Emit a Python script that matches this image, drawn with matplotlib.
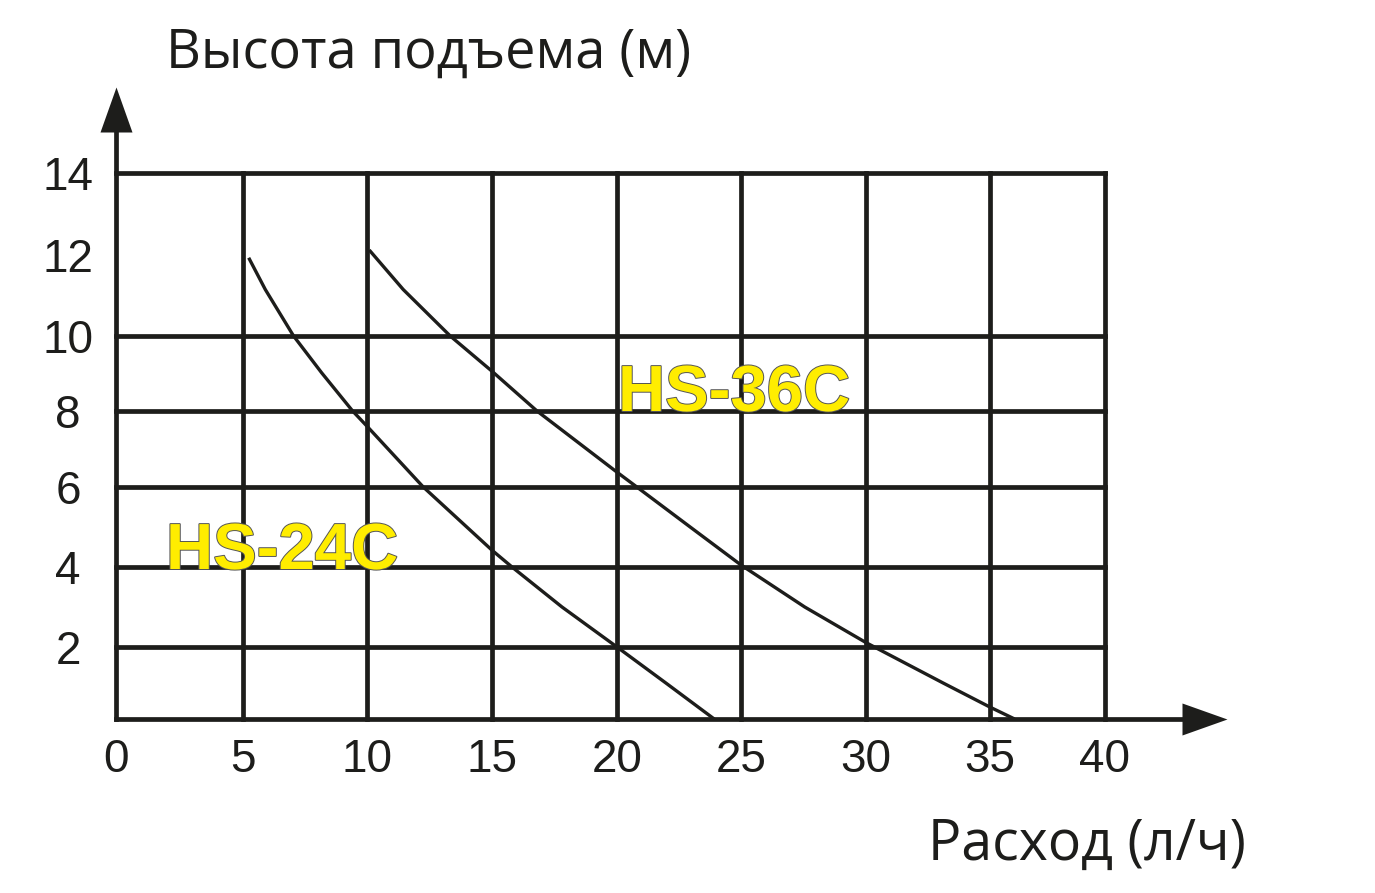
import numpy as np
import matplotlib.pyplot as plt
from matplotlib.path import Path
from matplotlib import patheffects

# pump curves: flow (л/ч) vs head (м)
hs24_flow = [5.23, 5.9, 7.04, 8.17, 9.42, 10.0, 12.25, 15.0, 15.8, 17.8, 20.0, 21.97, 23.92]
hs24_head = [11.92, 11.14, 10.0, 9.02, 8.0, 7.6, 6.0, 4.42, 4.0, 3.0, 2.0, 1.0, 0.0]

hs36_flow = [10.09, 11.45, 13.33, 15.0, 16.8, 19.92, 20.8, 22.95, 25.0, 27.55, 30.0, 33.11, 35.0, 36.07]
hs36_head = [12.11, 11.14, 10.0, 9.06, 8.0, 6.43, 6.0, 5.0, 4.05, 3.0, 2.11, 1.0, 0.33, 0.0]

x_ticks = [0, 5, 10, 15, 20, 25, 30, 35, 40]
y_ticks = [2, 4, 6, 8, 10, 12, 14]
x_grid = [5, 10, 15, 20, 25, 30, 35, 40]
y_grid = [2, 4, 6, 8, 10, 14]

# the original grid is drawn slightly uneven, so use piecewise linear scales
x_nodes = [-40, 0, 5, 10, 15, 20, 25, 30, 35, 40, 80]
x_span = [-1000, 0, 127, 251, 376, 501, 625, 750, 874, 989, 1909]
y_nodes = [-14, 0, 2, 4, 6, 8, 10, 14, 28]
y_span = [-546, 0, 72, 152, 232, 308, 383, 546, 1092]


def fwd(nodes, span):
    return lambda v: np.interp(v, nodes, span)


def inv(nodes, span):
    return lambda v: np.interp(v, span, nodes)


INK = "#1d1d1b"
YELLOW = "#ffed00"

fig = plt.figure(figsize=(13.75, 8.93), dpi=100)
ax = fig.add_axes([116 / 1375, 174 / 893, 989 / 1375, 546 / 893])
ax.set_xscale("function", functions=(fwd(x_nodes, x_span), inv(x_nodes, x_span)))
ax.set_yscale("function", functions=(fwd(y_nodes, y_span), inv(y_nodes, y_span)))
ax.set_xlim(0, 40)
ax.set_ylim(0, 14)

for s in ax.spines.values():
    s.set_visible(False)

ax.vlines(x_grid, 0, 14, color=INK, lw=3.4, capstyle="projecting", clip_on=False)
ax.hlines(y_grid, 0, 40, color=INK, lw=3.4, capstyle="projecting", clip_on=False)

# axes with arrow heads
ytop = (719 - 87) / 546
xend = (1227 - 116) / 989
ax.plot([0, 0], [0, ytop - 0.06], transform=ax.transAxes, color=INK, lw=3.4,
        clip_on=False, solid_capstyle="projecting")
ax.plot([0, xend - 0.03], [0, 0], transform=ax.transAxes, color=INK, lw=3.4,
        clip_on=False, solid_capstyle="projecting")
up_head = Path([(0, 0), (-16, -45), (16, -45), (0, 0)])
right_head = Path([(0, 0), (-45, 16), (-45, -16), (0, 0)])
ax.plot([0], [ytop], transform=ax.transAxes, marker=up_head, ms=64.8,
        color=INK, mew=0, clip_on=False)
ax.plot([xend], [0], transform=ax.transAxes, marker=right_head, ms=64.8,
        color=INK, mew=0, clip_on=False)

ax.plot(hs24_flow, hs24_head, color=INK, lw=2.4, solid_capstyle="butt")
ax.plot(hs36_flow, hs36_head, color=INK, lw=2.4, solid_capstyle="butt")

outline = [patheffects.withStroke(linewidth=1.4, foreground="#555555")]
ax.text(1.97, 3.95, "HS-24C", fontsize=47, family="Liberation Sans", weight="bold",
        color=YELLOW, ha="left", va="baseline", path_effects=outline)
ax.text(20.04, 8.0, "HS-36C", fontsize=47, family="Liberation Sans", weight="bold",
        color=YELLOW, ha="left", va="baseline", path_effects=outline)

ax.set_xticks(x_ticks)
ax.set_yticks(y_ticks)
ax.set_xticklabels([str(t) for t in x_ticks], family="Liberation Sans", fontsize=33, color=INK)
ax.set_yticklabels([str(t) for t in y_ticks], family="Liberation Sans", fontsize=33, color=INK,
                   ha="center")
ax.tick_params(axis="x", length=0, pad=14)
ax.tick_params(axis="y", length=0, pad=34.5)

fig.text(166 / 1375, 1 - 68 / 893, "Высота подъема (м)", family="Open Sans",
         fontsize=39, color=INK, ha="left", va="baseline")
fig.text(928 / 1375, 1 - 860 / 893, "Расход (л/ч)", family="Open Sans",
         fontsize=40, color=INK, ha="left", va="baseline")

fig.savefig("out.png", dpi=100)
